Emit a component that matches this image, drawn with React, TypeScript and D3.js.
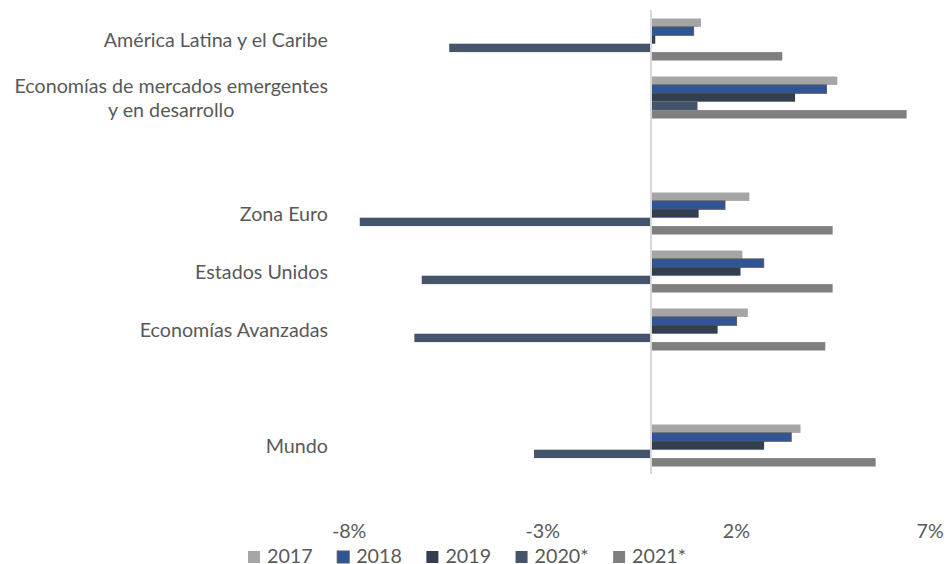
import React, { useEffect, useRef } from "react";
import * as d3 from "d3";

const categoryIds = ["alc", "em", "gap1", "ze", "us", "ae", "gap2", "world"];
const categoryLabels: string[][] = [
  ["América Latina y el Caribe"],
  ["Economías de mercados emergentes", "y en desarrollo"],
  [],
  ["Zona Euro"],
  ["Estados Unidos"],
  ["Economías Avanzadas"],
  [],
  ["Mundo"],
];

const seriesNames = ["2017", "2018", "2019", "2020*", "2021*"];
const s2017 = [1.29, 4.81, null, 2.54, 2.36, 2.5, null, 3.86];
const s2018 = [1.1, 4.53, null, 1.91, 2.91, 2.21, null, 3.62];
const s2019 = [0.11, 3.72, null, 1.23, 2.31, 1.72, null, 2.92];
const s2020 = [-5.21, 1.2, null, -7.52, -5.92, -6.11, null, -3.02];
const s2021 = [3.39, 6.6, null, 4.69, 4.69, 4.5, null, 5.8];
const seriesValues: (number | null)[][] = [s2017, s2018, s2019, s2020, s2021];
const seriesColors = ["#A5A5A5", "#2F5597", "#333F50", "#44546A", "#7F7F7F"];
const seriesStrokes = ["none", "#595959", "none", "none", "none"];

const tickValues = [-8, -3, 2, 7];
const tickFormat = (v: number) => `${v}%`;

const W = 945;
const H = 564;
const FONT = "Lato, 'Open Sans', sans-serif";
const FS = 19.7;
const TXT = "#595959";

export default function App() {
  const ref = useRef<SVGSVGElement>(null);

  useEffect(() => {
    const svg = d3.select(ref.current);
    svg.selectAll("*").remove();

    const zeroX = 651;
    const pxPer = 38.73;
    const x = d3
      .scaleLinear()
      .domain([-8, 7])
      .range([zeroX - 8 * pxPer, zeroX + 7 * pxPer]);
    const y = d3.scaleBand<string>().domain(categoryIds).range([10.5, 474.5]);
    const inner = d3
      .scaleBand<string>()
      .domain(seriesNames)
      .range([8, y.bandwidth() - 8]);

    const g = svg.append("g");
    seriesNames.forEach((name, si) => {
      const vals = seriesValues[si];
      g.append("g")
        .selectAll("rect")
        .data(categoryIds.map((id, ci) => ({ id, v: vals[ci] })).filter((d) => d.v !== null))
        .join("rect")
        .attr("x", (d) => Math.min(x(0), x(d.v as number)))
        .attr("width", (d) => Math.abs(x(d.v as number) - x(0)))
        .attr("y", (d) => (y(d.id) as number) + (inner(name) as number))
        .attr("height", inner.bandwidth())
        .attr("fill", seriesColors[si])
        .attr("stroke", seriesStrokes[si])
        .attr("stroke-width", 1);
    });

    svg
      .append("line")
      .attr("x1", x(0))
      .attr("x2", x(0))
      .attr("y1", 10)
      .attr("y2", 474)
      .attr("stroke", "#D9D9D9")
      .attr("stroke-width", 2);

    const labelRight = 328;
    categoryIds.forEach((id, ci) => {
      const lines = categoryLabels[ci];
      if (!lines.length) return;
      const cy = (y(id) as number) + y.bandwidth() / 2;
      const lh = 24;
      const n = lines.length;
      const first = svg
        .append("text")
        .attr("x", labelRight)
        .attr("y", cy - ((n - 1) * lh) / 2 + 7)
        .attr("text-anchor", "end")
        .attr("font-family", FONT)
        .attr("font-size", FS)
        .attr("fill", TXT)
        .text(lines[0]);
      if (n > 1) {
        const w = (first.node() as SVGTextElement).getComputedTextLength();
        for (let i = 1; i < n; i++) {
          svg
            .append("text")
            .attr("x", labelRight - w / 2)
            .attr("y", cy - ((n - 1) * lh) / 2 + i * lh + 7)
            .attr("text-anchor", "middle")
            .attr("font-family", FONT)
            .attr("font-size", FS)
            .attr("fill", TXT)
            .text(lines[i]);
        }
      }
    });

    svg
      .append("g")
      .selectAll("text")
      .data(tickValues)
      .join("text")
      .attr("x", (d) => x(d) + 8)
      .attr("y", 538)
      .attr("text-anchor", "middle")
      .attr("font-family", FONT)
      .attr("font-size", FS)
      .attr("fill", TXT)
      .text((d) => tickFormat(d));

    let lx = 248;
    const sq = 12;
    seriesNames.forEach((name, si) => {
      svg
        .append("rect")
        .attr("x", lx)
        .attr("y", 551)
        .attr("width", sq)
        .attr("height", sq)
        .attr("fill", seriesColors[si])
        .attr("stroke", seriesStrokes[si])
        .attr("stroke-width", 1);
      const t = svg
        .append("text")
        .attr("x", lx + sq + 7)
        .attr("y", 563)
        .attr("font-family", FONT)
        .attr("font-size", FS)
        .attr("fill", TXT)
        .text(name);
      const w = (t.node() as SVGTextElement).getComputedTextLength();
      lx += sq + 7 + w + 24.5;
    });
  }, []);

  return (
    <div style={{ position: "fixed", left: 0, top: 0, width: W, height: H, background: "#fff" }}>
      <svg ref={ref} width={W} height={H} style={{ display: "block" }} />
    </div>
  );
}
